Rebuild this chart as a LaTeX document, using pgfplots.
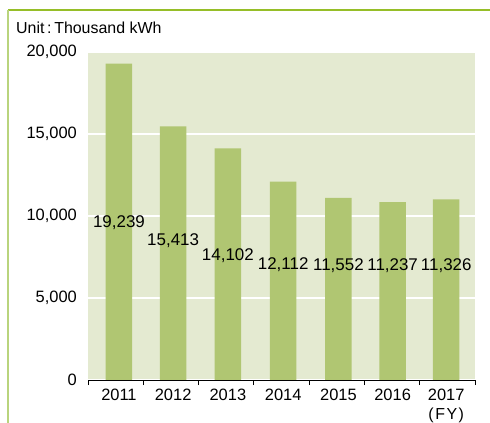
\documentclass[border=0pt]{standalone}
\usepackage{pgfplots}
\pgfplotsset{compat=1.18}
\usepackage{pgfplotstable}
\usepackage{fontspec}
\setmainfont{Liberation Sans}
\definecolor{barc}{RGB}{176,198,114}
\definecolor{bgc}{RGB}{228,234,209}
\definecolor{topline}{RGB}{150,190,40}
\definecolor{leftline}{RGB}{185,212,125}

\pgfplotstableread{
x h ly lab
0.06 19290 9573 19,239
1.04 15460 8476 15,413
2.03 14130 7561 14,102
3.03 12090 7012 12,112
4.03 11100 6951 11,552
5.01 10850 6951 11,237
5.98 11020 6951 11,326
}\data

\begin{document}
\begin{tikzpicture}
\path[use as bounding box] (0,0) rectangle (490bp,423bp);
\draw[topline, line width=1.5bp] (8bp,413bp) -- (490bp,413bp);
\draw[leftline, line width=1.5bp] (8bp,413bp) -- (8bp,0);
\node[anchor=west, inner sep=0pt, font=\fontsize{16}{18}\selectfont] at (16bp,395bp) {Unit\,:\,Thousand kWh};
\begin{axis}[
  at={(88bp,43bp)}, anchor=south west,
  scale only axis, width=387bp, height=328bp,
  xmin=-0.5, xmax=6.5, ymin=0, ymax=20000,
  clip=false,
  axis background/.style={fill=bgc},
  axis x line*=bottom, axis y line*=left,
  y axis line style={draw=none},
  x axis line style={black, line width=0.8pt, -},
  xtick=data, xticklabels={2011,2012,2013,2014,2015,2016,2017},
  minor xtick={-0.5,0.5,...,6.5},
  major tick length=0pt, minor tick length=5bp,
  tick align=outside,
  xtick style={black, line width=0.8pt},
  ytick style={draw=none},
  ytick={0,5000,10000,15000,20000},
  ymajorgrids, grid style={white, line width=1.2bp},
  yticklabel style={anchor=east, inner sep=0pt, xshift=-11bp, font=\fontsize{16.5}{18}\selectfont},
  xticklabel style={anchor=north, inner sep=0pt, yshift=-9bp, font=\fontsize{16.5}{18}\selectfont},
  scaled y ticks=false,
  /pgf/number format/assume math mode=true,
  /pgf/number format/1000 sep={,},
]
\addplot[ybar, bar width=26.5bp, fill=barc, draw=none] table[x=x, y=h] {\data};
\addplot[draw=none, mark=none, nodes near coords, point meta=explicit symbolic,
  every node near coord/.style={font=\fontsize{17}{19}\selectfont, inner sep=0pt, anchor=center}]
  table[x=x, y=ly, meta=lab] {\data};
\node[anchor=east, inner sep=0pt, font=\fontsize{16}{18}\selectfont] at (rel axis cs:0.972,-0.107) {(\kern1.5pt F\kern1.5pt Y\kern1.5pt)};
\end{axis}
\end{tikzpicture}
\end{document}
